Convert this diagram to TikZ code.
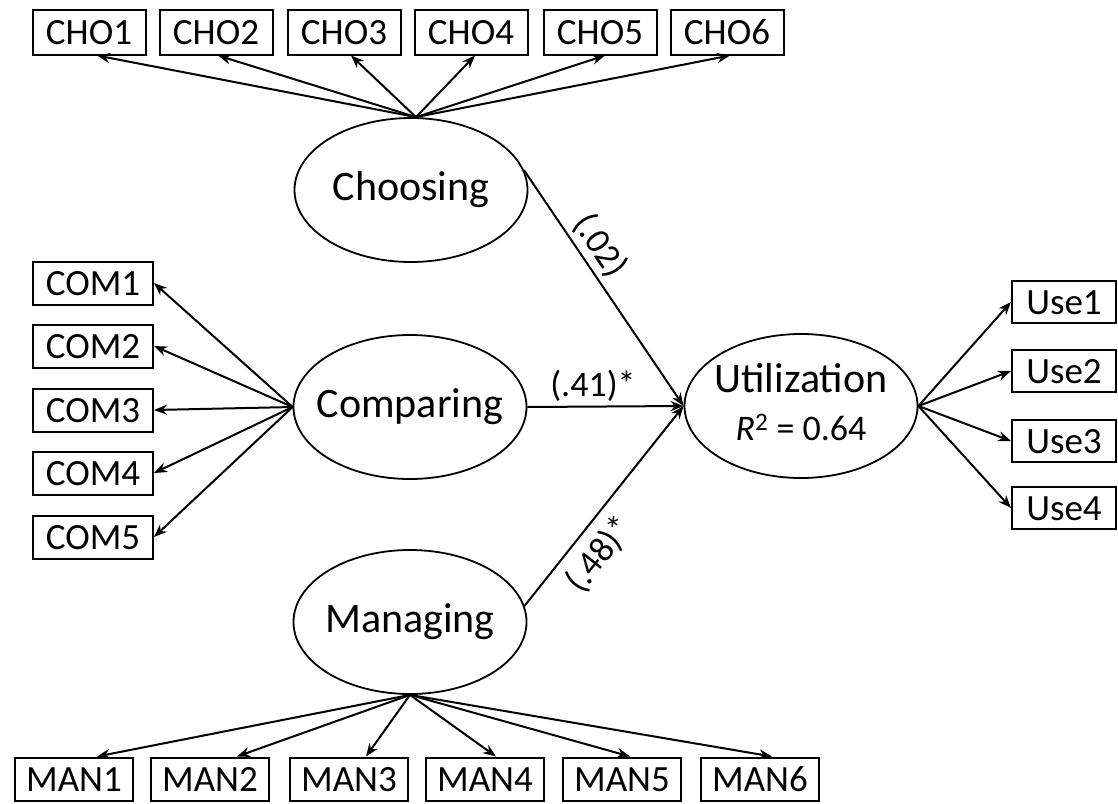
\documentclass[tikz,border=0pt]{standalone}
\usepackage{fontspec}
\setmainfont{Carlito}
\usetikzlibrary{shapes.geometric,arrows.meta}
\begin{document}
\begin{tikzpicture}[x=1pt,y=-1pt,
  box/.style={draw, line width=2pt, rectangle, inner sep=0pt, text height=24pt, text depth=0pt, font=\fontsize{37}{42}\selectfont},
  lat/.style={draw, line width=1.8pt, ellipse, inner sep=0pt, minimum width=233pt, minimum height=144pt, font=\fontsize{42}{50}\selectfont},
  arr/.style={line width=2pt, -{Stealth[length=13pt,width=10pt]}},
  lbl/.style={font=\fontsize{36}{40}\selectfont, inner sep=4pt}]
\useasboundingbox (0,0) rectangle (1118,803);
% indicators
\foreach \n/\x in {1/89,2/216,3/344,4/471,5/600,6/727}
  \node[box, minimum width=113pt, minimum height=45pt] (cho\n) at (\x,32) {CHO\n};
\foreach \n/\y in {1/283,2/346,3/410,4/473,5/537}
  \node[box, minimum width=120pt, minimum height=43pt] (com\n) at (93,\y) {COM\n};
\foreach \n/\x in {1/74,2/210,3/349,4/485,5/622,6/760}
  \node[box, minimum width=118pt, minimum height=43pt] (man\n) at (\x,779) {MAN\n};
\foreach \n/\y in {1/302,2/371,3/441,4/508}
  \node[box, minimum width=104pt, minimum height=42pt] (use\n) at (1064,\y) {Use\n};
% latent variables
\node[lat] (cho) at (411,190) {\makebox[0pt]{Choosing}};
\node[lat] (com) at (410,407) {\makebox[0pt]{Comparing}};
\node[lat] (man) at (410,622) {\makebox[0pt]{Managing}};
\node[lat] (util) at (801,406) {\makebox[0pt]{\begin{tabular}{@{}c@{}}Utilization\\[-2pt]{\fontsize{36}{42}\selectfont\textit{R}\textsuperscript{2} = 0.64}\end{tabular}}};
% loadings
\foreach \n/\s in {1/8,2/2,3/7,4/4,5/5,6/3}
  \draw[arr] ([xshift=5pt]cho.north) -- ([xshift=\s pt]cho\n.south);
\foreach \n in {1,...,5}
  \draw[arr] (com.west) -- (com\n.east);
\foreach \n/\s in {1/23,2/27,3/17,4/11,5/8,6/12}
  \draw[arr] (man.south) -- ([xshift=\s pt]man\n.north);
\foreach \n in {1,...,4}
  \draw[arr] (util.east) -- (use\n.west);
% structural paths
\draw[arr] (cho.10) -- node[lbl, pos=0.37, sloped, above] {(.02)} (util.west);
\draw[arr] (com.east) -- node[lbl, pos=0.42, above] {(.41)*} (util.west);
\draw[arr] (man.8) -- node[lbl, pos=0.34, sloped, below, inner sep=10pt] {(.48)*} (util.west);
\end{tikzpicture}
\end{document}
